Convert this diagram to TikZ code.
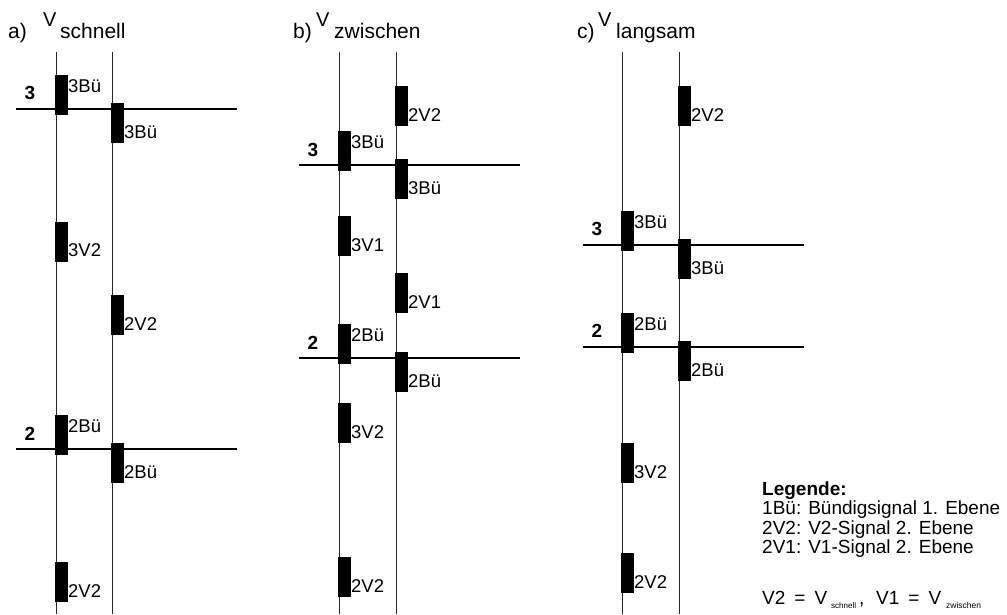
\documentclass[tikz,border=0pt]{standalone}
\usepackage{fontspec}
\setmainfont{Liberation Sans}
\begin{document}
\begin{tikzpicture}[x=1pt,y=-1pt,
  track/.style={line width=1pt, black!85},
  level/.style={line width=2pt, black},
  sig/.style={fill=black, draw=none, minimum width=13pt, minimum height=40pt, inner sep=0pt, outer sep=0pt, anchor=north west},
  lab/.style={anchor=base west, inner sep=0pt, font=\fontsize{18.5}{21}\selectfont},
  num/.style={anchor=base, inner sep=0pt, font=\fontsize{19}{21}\selectfont\bfseries},
  ttl/.style={anchor=base west, inner sep=0pt, font=\fontsize{21}{24}\selectfont},
  ttlv/.style={anchor=base west, inner sep=0pt, font=\fontsize{20}{23}\selectfont},
  leg/.style={anchor=base west, inner sep=0pt, font=\fontsize{19}{22}\selectfont},
  legs/.style={anchor=base west, inner sep=0pt, font=\fontsize{8}{9}\selectfont},
]
\useasboundingbox (0,0) rectangle (1007,614);

% ---------- panel a ----------
\node[ttl] (ta) at (8,38) {a)};
\node[ttlv] (tav) at (43,26) {V};
\node[ttl] (tas) at (60,38) {schnell};
\coordinate (aLt) at (56,52); \coordinate (aLb) at (56,614);
\coordinate (aRt) at (112,52); \coordinate (aRb) at (112,614);
\draw[track] (aLt) -- (aLb);
\draw[track] (aRt) -- (aRb);
\coordinate (a3w) at (16,109); \coordinate (a3e) at (237,109);
\coordinate (a2w) at (16,449); \coordinate (a2e) at (237,449);
\draw[level] (a3w) -- (a3e);
\draw[level] (a2w) -- (a2e);
\node[num] (an3) at (30,99) {3};
\node[num] (an2) at (30,440) {2};
\node[sig] (aL3) at (55,75) {};   \node[lab] (aL3l) at (68,92) {3Bü};
\node[sig] (aR3) at (111,103) {}; \node[lab] (aR3l) at (124,138) {3Bü};
\node[sig] (aLv) at (55,222) {};  \node[lab] (aLvl) at (68,256) {3V2};
\node[sig] (aRv) at (111,295) {}; \node[lab] (aRvl) at (124,330) {2V2};
\node[sig] (aL2) at (55,415) {};  \node[lab] (aL2l) at (68,432) {2Bü};
\node[sig] (aR2) at (111,443) {}; \node[lab] (aR2l) at (124,478) {2Bü};
\node[sig] (aLw) at (55,562) {};  \node[lab] (aLwl) at (68,597) {2V2};

% ---------- panel b ----------
\node[ttl] (tb) at (293,38) {b)};
\node[ttlv] (tbv) at (316,26) {V};
\node[ttl] (tbs) at (334,38) {zwischen};
\coordinate (bLt) at (339,52); \coordinate (bLb) at (339,614);
\coordinate (bRt) at (396,52); \coordinate (bRb) at (396,614);
\draw[track] (bLt) -- (bLb);
\draw[track] (bRt) -- (bRb);
\coordinate (b3w) at (299,165); \coordinate (b3e) at (520,165);
\coordinate (b2w) at (299,358); \coordinate (b2e) at (520,358);
\draw[level] (b3w) -- (b3e);
\draw[level] (b2w) -- (b2e);
\node[num] (bn3) at (313,156) {3};
\node[num] (bn2) at (313,349) {2};
\node[sig] (bRv) at (395,86) {};  \node[lab] (bRvl) at (408,121) {2V2};
\node[sig] (bL3) at (338,131) {}; \node[lab] (bL3l) at (351,148) {3Bü};
\node[sig] (bR3) at (395,159) {}; \node[lab] (bR3l) at (408,194) {3Bü};
\node[sig] (bLv) at (338,216) {}; \node[lab] (bLvl) at (351,251) {3V1};
\node[sig] (bRu) at (395,273) {}; \node[lab] (bRul) at (408,308) {2V1};
\node[sig] (bL2) at (338,324) {}; \node[lab] (bL2l) at (351,341) {2Bü};
\node[sig] (bR2) at (395,352) {}; \node[lab] (bR2l) at (408,387) {2Bü};
\node[sig] (bLx) at (338,403) {}; \node[lab] (bLxl) at (351,438) {3V2};
\node[sig] (bLw) at (338,557) {}; \node[lab] (bLwl) at (351,592) {2V2};

% ---------- panel c ----------
\node[ttl] (tc) at (577,38) {c)};
\node[ttlv] (tcv) at (598,26) {V};
\node[ttl] (tcs) at (616,38) {langsam};
\coordinate (cLt) at (622,52); \coordinate (cLb) at (622,614);
\coordinate (cRt) at (679,52); \coordinate (cRb) at (679,614);
\draw[track] (cLt) -- (cLb);
\draw[track] (cRt) -- (cRb);
\coordinate (c3w) at (583,245); \coordinate (c3e) at (804,245);
\coordinate (c2w) at (583,347); \coordinate (c2e) at (804,347);
\draw[level] (c3w) -- (c3e);
\draw[level] (c2w) -- (c2e);
\node[num] (cn3) at (597,235) {3};
\node[num] (cn2) at (597,337) {2};
\node[sig] (cRv) at (678,86) {};  \node[lab] (cRvl) at (691,121) {2V2};
\node[sig] (cL3) at (621,211) {}; \node[lab] (cL3l) at (634,228) {3Bü};
\node[sig] (cR3) at (678,239) {}; \node[lab] (cR3l) at (691,274) {3Bü};
\node[sig] (cL2) at (621,313) {}; \node[lab] (cL2l) at (634,330) {2Bü};
\node[sig] (cR2) at (678,341) {}; \node[lab] (cR2l) at (691,376) {2Bü};
\node[sig] (cLx) at (621,443) {}; \node[lab] (cLxl) at (634,478) {3V2};
\node[sig] (cLw) at (621,553) {}; \node[lab] (cLwl) at (634,588) {2V2};

% ---------- legend ----------
\node[leg, font=\fontsize{19}{22}\selectfont\bfseries] (lg0) at (762,495) {Legende:};
\node[leg] (lg1) at (762,514.5) {1Bü: Bündigsignal 1. Ebene};
\node[leg] (lg2) at (762,534) {2V2: V2-Signal 2. Ebene};
\node[leg] (lg3) at (762,553.5) {2V1: V1-Signal 2. Ebene};
\node[leg] (lg4a) at (762,604) {V2\hspace{9pt}=\hspace{9pt}V};
\node[legs] (lg4b) at (831,608) {schnell};
\node[leg] (lg4c) at (859,604) {,};
\node[leg] (lg4d) at (876,604) {V1\hspace{9pt}=\hspace{9pt}V};
\node[legs, font=\fontsize{8.5}{9}\selectfont] (lg4e) at (946,608) {zwischen};
\end{tikzpicture}
\end{document}
